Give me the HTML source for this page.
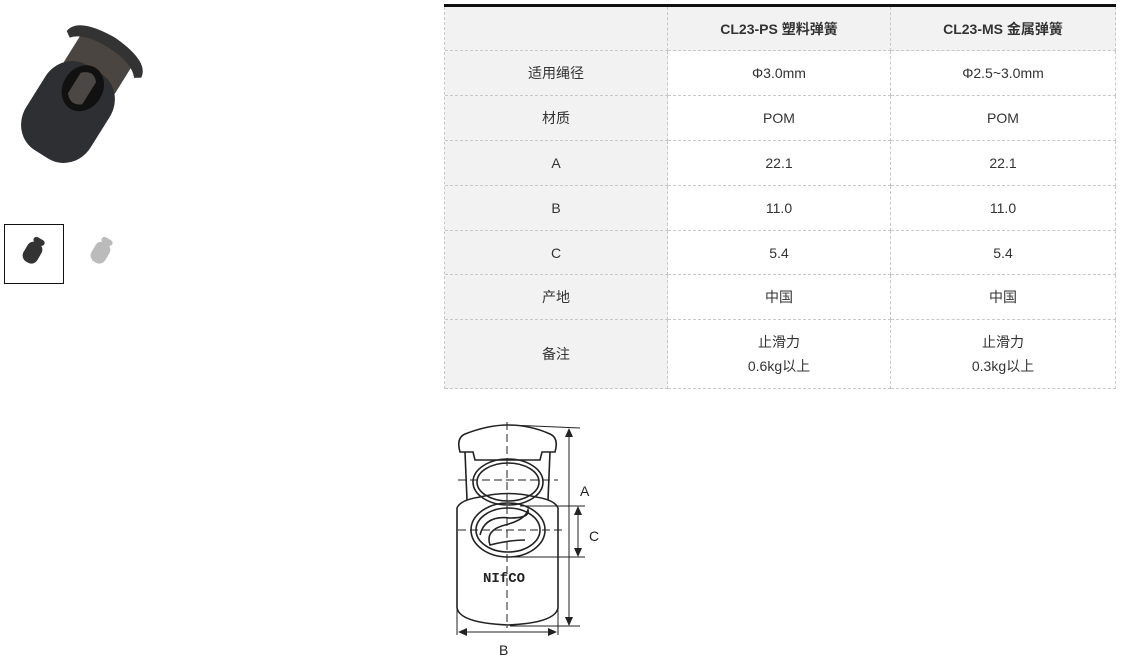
<!DOCTYPE html>
<html><head><meta charset="utf-8"><style>
body{margin:0;width:1122px;height:657px;background:#fff;position:relative;overflow:hidden;font-family:"Liberation Sans","Noto Sans CJK SC",sans-serif;color:#333;font-size:14px}
.c{position:absolute;display:flex;align-items:center;justify-content:center;text-align:center;box-sizing:border-box;border-right:1px dashed #c8c8c8;border-bottom:1px dashed #c8c8c8;line-height:24px}
.g{background:#f2f2f2}
</style></head><body>
<div style="position:absolute;left:444px;top:4px;width:672px;height:3px;background:#111"></div>
<div style="position:absolute;left:444px;top:7px;width:1px;height:382px;border-left:1px dashed #c8c8c8"></div>
<div id="t"></div>
<script>
var rows=[["","<b>CL23-PS 塑料弹簧</b>","<b>CL23-MS 金属弹簧</b>"],["适用绳径","Φ3.0mm","Φ2.5~3.0mm"],["材质","POM","POM"],["A","22.1","22.1"],["B","11.0","11.0"],["C","5.4","5.4"],["产地","中国","中国"],["备注","止滑力<br>0.6kg以上","止滑力<br>0.3kg以上"]];
var ys=[7,51,96,141,186,231,275,320,389],xs=[445,668,891,1116],h="";
for(var r=0;r<8;r++)for(var c=0;c<3;c++){var g=(r==0||c==0)?" g":"";h+='<div class="c'+g+'" style="left:'+xs[c]+'px;top:'+ys[r]+'px;width:'+(xs[c+1]-xs[c])+'px;height:'+(ys[r+1]-ys[r])+'px">'+rows[r][c]+'</div>';}
document.getElementById('t').innerHTML=h;
</script>
<svg style="position:absolute;left:0;top:0" width="440" height="300">
<g transform="rotate(32 70 105)">
<rect x="42" y="32" width="60" height="40" fill="#4a4540"/>
<path d="M28,44 Q30,26 72,24 Q114,26 116,44 L110,48 Q100,36 72,36 Q44,36 34,48Z" fill="#333"/>
<rect x="34" y="62" width="76" height="100" rx="30" ry="32" fill="#2e2f32"/>
<ellipse cx="72" cy="84" rx="20" ry="24" fill="#111"/>
<path d="M62,72 Q72,62 80,72 L80,98 Q70,106 62,96Z" fill="#4a4744"/>
</g>
<rect x="4.5" y="224.5" width="59" height="59" fill="none" stroke="#111"/>
<g transform="translate(22,236) rotate(30 12 14)"><rect x="4" y="6" width="16" height="22" rx="7" fill="#333"/><rect x="6" y="1" width="12" height="6" rx="3" fill="#333"/></g>
<g transform="translate(90,236) rotate(30 12 14)"><rect x="4" y="6" width="16" height="22" rx="7" fill="#bbb"/><rect x="6" y="1" width="12" height="6" rx="3" fill="#bbb"/></g>
</svg>
<svg style="position:absolute;left:440px;top:400px" width="200" height="257" fill="none" stroke="#222" stroke-width="1.6">
<path d="M20,52 Q16,38 25,34 Q48,25 68,25 Q90,25 110,34 Q119,38 115,52 L102,52 L100,60 L35,60 L33,52Z"/>
<path d="M25,52 L27,100 M110,52 L108,100"/>
<ellipse cx="68" cy="82" rx="35" ry="23"/><ellipse cx="68" cy="82" rx="31" ry="19"/>
<path d="M17,108 Q20,100 40,97 Q68,90 96,97 Q115,100 118,108 L118,208 Q115,223 68,225 Q20,223 17,208Z"/>
<ellipse cx="68" cy="130" rx="37" ry="27"/><ellipse cx="68" cy="130" rx="32" ry="22"/>
<path d="M40,135 Q45,115 70,118 Q90,118 88,110 Q85,120 65,125 Q45,130 50,145 Q70,140 85,140"/>
<g stroke-dasharray="8,4" stroke-width="1"><path d="M67,22 L67,228 M18,80 L118,80 M18,130 L125,130"/></g>
<g stroke-width="1"><path d="M70,25 L140,28 M80,106 L145,106 M68,157 L145,157 M70,226 L140,226 M17,180 L17,235 M118,180 L118,235"/>
<path d="M129,30 L129,224 M138,108 L138,155 M20,232 L115,232"/></g>
<g fill="#222" stroke="none"><path d="M129,28 l-4,9 h8z M129,226 l-4,-9 h8z M138,106 l-4,9 h8z M138,157 l-4,-9 h8z M18,232 l9,-4 v8z M117,232 l-9,-4 v8z"/></g>
<text x="43" y="182" fill="#222" stroke="none" font-family="Liberation Mono,monospace" font-weight="bold" font-size="14" letter-spacing="0">NIfCO</text>
<g fill="#222" stroke="none" font-family="Liberation Sans,sans-serif" font-size="14"><text x="140" y="96">A</text><text x="149" y="141">C</text><text x="59" y="255">B</text></g>
</svg>
</body></html>
